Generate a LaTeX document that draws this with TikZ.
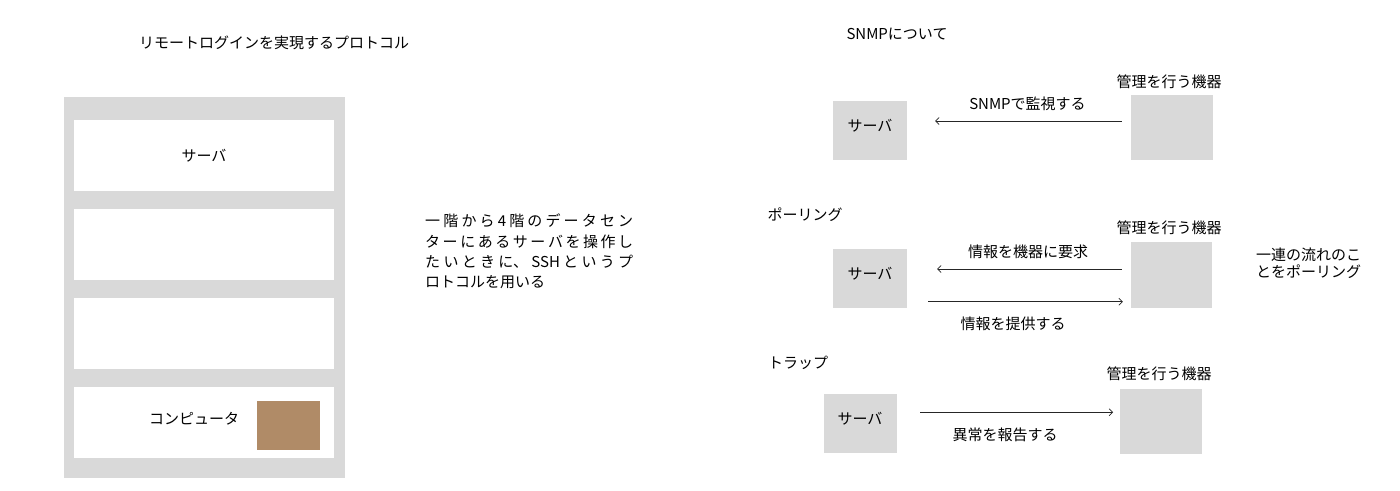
\documentclass[tikz,border=0pt]{standalone}
\usepackage{fontspec}
\setmainfont{Noto Sans CJK JP}
\usetikzlibrary{arrows.meta}
\definecolor{boxgray}{RGB}{217,217,217}
\definecolor{pcbrown}{RGB}{176,139,103}
\hbadness=10000
\begin{document}
\begin{tikzpicture}[x=1pt,y=-1pt,
  every node/.style={font=\fontsize{15}{18}\selectfont, inner sep=0pt},
  txt/.style={},
  graybox/.style={fill=boxgray, draw=none},
  whiterow/.style={fill=white, draw=none, minimum width=260pt, minimum height=71pt},
  srvbox/.style={graybox, minimum width=74pt, minimum height=59pt, text height=12pt, text depth=11pt},
  devbox/.style={graybox, minimum width=82pt, minimum height=65pt},
  arr/.style={-{Straight Barb[length=3.5pt,width=7pt]}, line width=0.7pt, draw=black!85}]
\useasboundingbox (0,0) rectangle (1400,490);

% ---- left: remote login ----
\node[txt] (title1) at (274,43) {リモートログインを実現するプロトコル};
\node[graybox, minimum width=281pt, minimum height=381pt] (rack) at (204.5,287.5) {};
\node[whiterow] (row1) at (204,155.5) {サーバ};
\node[whiterow] (row2) at (204,244.5) {};
\node[whiterow] (row3) at (204,333.5) {};
\node[whiterow] (row4) at (204,422.5) {};
\node[fill=pcbrown, minimum width=63pt, minimum height=49pt] (pc) at (288.5,425.5) {};
\node[txt] (pclabel) at (194,419) {コンピュータ};

\node[anchor=north west, text width=208pt, align=justify, font=\fontsize{15}{20.3}\selectfont] (para) at (425,214)
  {\XeTeXlinebreaklocale "ja"\XeTeXlinebreakskip=0pt plus 4pt 一階から4階のデータセン\linebreak ターにあるサーバを操作し\linebreak たいときに、SSHというプ\linebreak ロトコルを用いる};

% ---- right: SNMP ----
\node[txt] (title2) at (897,34) {SNMPについて};

% monitoring
\node[srvbox] (srv1) at (870,130.5) {サーバ};
\node[devbox] (dev1) at (1172,127.5) {};
\node[txt] (dev1lab) at (1169,82) {管理を行う機器};
\draw[arr, shorten <=9pt, shorten >=28pt] (dev1.west |- 0,121) -- (srv1.east |- 0,121);
\node[txt] (lab1) at (1027.5,104) {SNMPで監視する};

% polling
\node[txt] (poll) at (805,215) {ポーリング};
\node[srvbox] (srv2) at (870,278.5) {サーバ};
\node[devbox, minimum width=81pt, minimum height=66pt] (dev2) at (1171.5,275) {};
\node[txt] (dev2lab) at (1169,228) {管理を行う機器};
\draw[arr, shorten <=9pt, shorten >=30pt] (dev2.west |- 0,269) -- (srv2.east |- 0,269);
\node[txt] (lab2) at (1028,252) {情報を機器に要求};
\draw[arr, shorten <=21pt, shorten >=8pt] (srv2.east |- 0,301.7) -- (dev2.west |- 0,301.7);
\node[txt] (lab3) at (1013,324) {情報を提供する};
\node[anchor=west, align=left, font=\fontsize{15}{17}\selectfont] (note) at (1256,263.5) {一連の流れのこ\\とをポーリング};

% trap
\node[txt] (trap) at (798,363) {トラップ};
\node[srvbox, minimum width=73pt] (srv3) at (860,423.7) {サーバ};
\node[devbox] (dev3) at (1161,421) {};
\node[txt] (dev3lab) at (1159,374) {管理を行う機器};
\draw[arr, shorten <=23.3pt, shorten >=6.7pt] (srv3.east |- 0,412.3) -- (dev3.west |- 0,412.3);
\node[txt] (lab4) at (1005,435) {異常を報告する};
\end{tikzpicture}
\end{document}
